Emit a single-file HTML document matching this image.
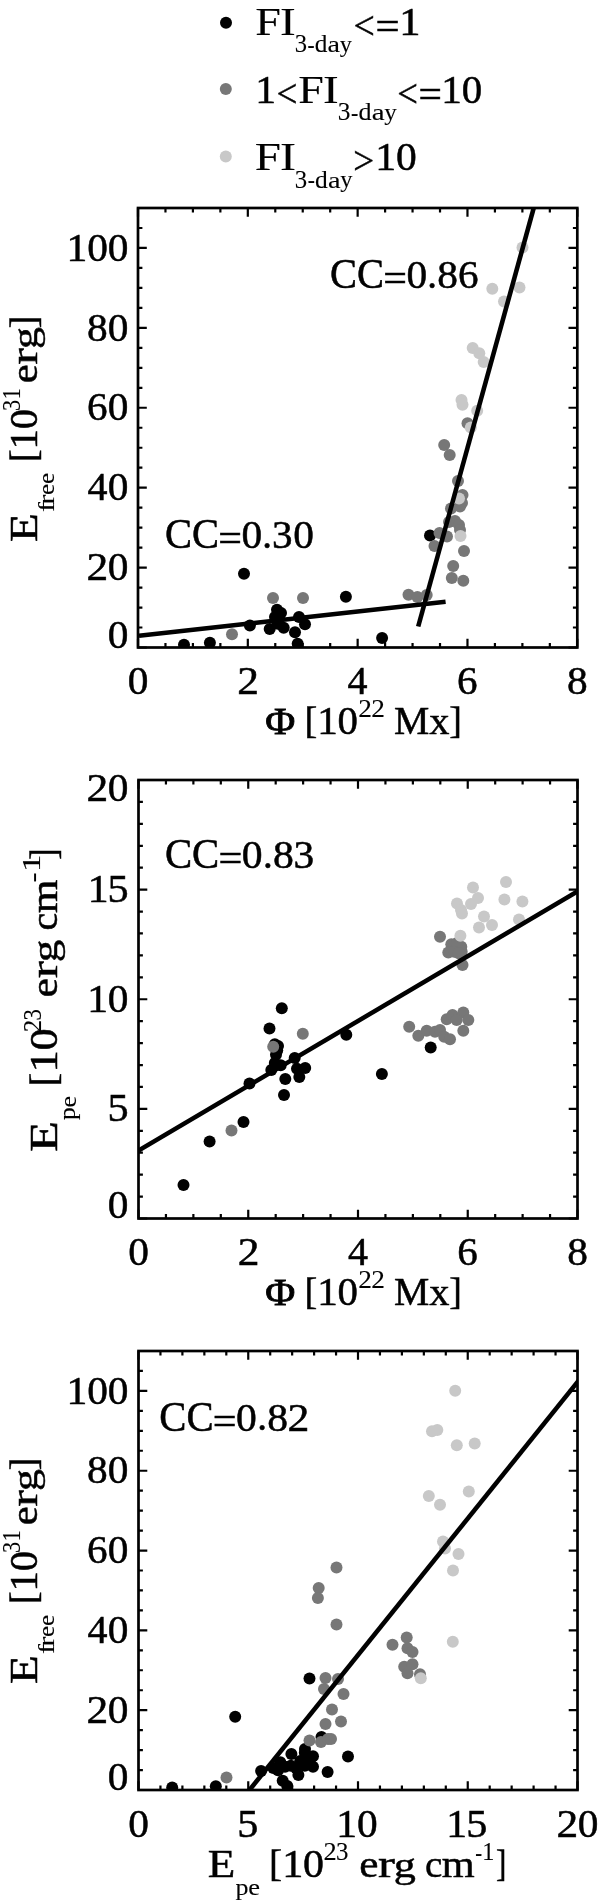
<!DOCTYPE html>
<html><head><meta charset="utf-8"><style>
html,body{margin:0;padding:0;background:#fff;}
svg{display:block;}
.t{opacity:0.999;}
text{font-family:"Liberation Serif",serif;font-size:100px;fill:#000;stroke:#000;stroke-width:1.3px;}
</style></head><body>
<svg width="600" height="1900" viewBox="0 0 600 1900">
<rect width="600" height="1900" fill="#fff"/>
<g class="t"><defs>
<clipPath id="c1"><rect x="138" y="208" width="439.3" height="439.5"/></clipPath>
<clipPath id="c2"><rect x="138.5" y="780" width="439" height="438.5"/></clipPath>
<clipPath id="c3"><rect x="138.5" y="1351" width="439" height="439"/></clipPath>
</defs>
<circle cx="226" cy="22.7" r="6" fill="#000"/>
<circle cx="225.8" cy="89" r="6" fill="#777777"/>
<circle cx="225.8" cy="156.5" r="6" fill="#c8c8c8"/>
<text transform="matrix(0.4613 0 0 0.4103 255.13 34.8)" style="stroke-width:0.3px">F</text>
<text transform="matrix(0.4718 0 0 0.4103 279.96 34.8)" style="stroke-width:0.3px">I</text>
<text transform="matrix(0.2462 0 0 0.243 294.63 52.4)" style="stroke-width:0.5px">3</text>
<text transform="matrix(0.2125 0 0 0.2497 307.41 52.81)" style="stroke-width:0.5px">-</text>
<text transform="matrix(0.2528 0 0 0.2423 314.76 52.4)" style="stroke-width:0.5px">d</text>
<text transform="matrix(0.2811 0 0 0.2341 327.53 52.41)" style="stroke-width:0.5px">a</text>
<text transform="matrix(0.2428 0 0 0.2262 339.67 52.15)" style="stroke-width:0.5px">y</text>
<text transform="matrix(0.3774 0 0 0.4009 353.61 38.98)">&lt;</text>
<text transform="matrix(0.4284 0 0 0.3869 375.5 38.56)">=</text>
<text transform="matrix(0.4252 0 0 0.3974 399.19 35)">1</text>
<text transform="matrix(0.4164 0 0 0.3974 255.36 103)">1</text>
<text transform="matrix(0.3696 0 0 0.4009 276.42 106.98)">&lt;</text>
<text transform="matrix(0.4603 0 0 0.4103 298.22 103)" style="stroke-width:0.3px">F</text>
<text transform="matrix(0.4707 0 0 0.4103 323 103)" style="stroke-width:0.3px">I</text>
<text transform="matrix(0.2539 0 0 0.243 337.79 120.4)" style="stroke-width:0.5px">3</text>
<text transform="matrix(0.2191 0 0 0.2497 350.98 120.81)" style="stroke-width:0.5px">-</text>
<text transform="matrix(0.2607 0 0 0.2423 358.55 120.4)" style="stroke-width:0.5px">d</text>
<text transform="matrix(0.2899 0 0 0.2341 371.72 120.41)" style="stroke-width:0.5px">a</text>
<text transform="matrix(0.2504 0 0 0.2262 384.24 120.15)" style="stroke-width:0.5px">y</text>
<text transform="matrix(0.3659 0 0 0.4009 397.17 106.98)">&lt;</text>
<text transform="matrix(0.4154 0 0 0.3869 418.39 106.56)">=</text>
<text transform="matrix(0.4123 0 0 0.3974 441.37 103)">1</text>
<text transform="matrix(0.409 0 0 0.3968 461.78 103.16)">0</text>
<text transform="matrix(0.4711 0 0 0.4103 254.7 170)" style="stroke-width:0.3px">F</text>
<text transform="matrix(0.4818 0 0 0.4103 280.07 170)" style="stroke-width:0.3px">I</text>
<text transform="matrix(0.2482 0 0 0.243 294.82 187.5)" style="stroke-width:0.5px">3</text>
<text transform="matrix(0.2142 0 0 0.2497 307.71 187.91)" style="stroke-width:0.5px">-</text>
<text transform="matrix(0.2548 0 0 0.2423 315.11 187.5)" style="stroke-width:0.5px">d</text>
<text transform="matrix(0.2834 0 0 0.2341 327.98 187.51)" style="stroke-width:0.5px">a</text>
<text transform="matrix(0.2447 0 0 0.2262 340.22 187.25)" style="stroke-width:0.5px">y</text>
<text transform="matrix(0.3695 0 0 0.4009 353.15 173.98)">&gt;</text>
<text transform="matrix(0.4185 0 0 0.3974 375.37 170)">1</text>
<text transform="matrix(0.4152 0 0 0.3968 396.1 170.16)">0</text>
<g clip-path="url(#c1)">
<circle cx="244" cy="573.7" r="6" fill="#000"/>
<circle cx="184" cy="644.7" r="6" fill="#000"/>
<circle cx="209.9" cy="642.8" r="6" fill="#000"/>
<circle cx="249.9" cy="625.5" r="6" fill="#000"/>
<circle cx="277" cy="609.7" r="6" fill="#000"/>
<circle cx="281" cy="613" r="6" fill="#000"/>
<circle cx="275" cy="617" r="6" fill="#000"/>
<circle cx="269.7" cy="629" r="6" fill="#000"/>
<circle cx="283.7" cy="627.7" r="6" fill="#000"/>
<circle cx="277.7" cy="623.7" r="6" fill="#000"/>
<circle cx="299" cy="617" r="6" fill="#000"/>
<circle cx="305" cy="624.3" r="6" fill="#000"/>
<circle cx="295" cy="632.3" r="6" fill="#000"/>
<circle cx="297.7" cy="643.7" r="6" fill="#000"/>
<circle cx="345.9" cy="596.8" r="6" fill="#000"/>
<circle cx="382.1" cy="637.9" r="6" fill="#000"/>
<circle cx="430" cy="535.5" r="6" fill="#000"/>
<circle cx="232" cy="634.3" r="6" fill="#777777"/>
<circle cx="273" cy="597.9" r="6" fill="#777777"/>
<circle cx="303" cy="597.9" r="6" fill="#777777"/>
<circle cx="408.5" cy="594.7" r="6" fill="#777777"/>
<circle cx="417.4" cy="597" r="6" fill="#777777"/>
<circle cx="426.7" cy="595.1" r="6" fill="#777777"/>
<circle cx="453.2" cy="565.9" r="6" fill="#777777"/>
<circle cx="451.8" cy="578" r="6" fill="#777777"/>
<circle cx="463.3" cy="580.8" r="6" fill="#777777"/>
<circle cx="464" cy="551" r="6" fill="#777777"/>
<circle cx="467.5" cy="423.3" r="6" fill="#777777"/>
<circle cx="444.2" cy="445" r="6" fill="#777777"/>
<circle cx="449.7" cy="455" r="6" fill="#777777"/>
<circle cx="458" cy="481" r="6" fill="#777777"/>
<circle cx="462.5" cy="495" r="6" fill="#777777"/>
<circle cx="462" cy="503" r="6" fill="#777777"/>
<circle cx="460" cy="506.5" r="6" fill="#777777"/>
<circle cx="451" cy="508.5" r="6" fill="#777777"/>
<circle cx="449" cy="522" r="6" fill="#777777"/>
<circle cx="455" cy="521" r="6" fill="#777777"/>
<circle cx="459" cy="525" r="6" fill="#777777"/>
<circle cx="460" cy="530" r="6" fill="#777777"/>
<circle cx="439.5" cy="533" r="6" fill="#777777"/>
<circle cx="447" cy="536.5" r="6" fill="#777777"/>
<circle cx="434.5" cy="546" r="6" fill="#777777"/>
<circle cx="522.5" cy="247.5" r="6" fill="#c8c8c8"/>
<circle cx="492.3" cy="288.7" r="6" fill="#c8c8c8"/>
<circle cx="519.5" cy="287.5" r="6" fill="#c8c8c8"/>
<circle cx="504" cy="301.5" r="6" fill="#c8c8c8"/>
<circle cx="472.7" cy="348" r="6" fill="#c8c8c8"/>
<circle cx="479.3" cy="353.3" r="6" fill="#c8c8c8"/>
<circle cx="483.7" cy="362" r="6" fill="#c8c8c8"/>
<circle cx="461.5" cy="400" r="6" fill="#c8c8c8"/>
<circle cx="462.5" cy="404.8" r="6" fill="#c8c8c8"/>
<circle cx="477.2" cy="410.7" r="6" fill="#c8c8c8"/>
<circle cx="470.8" cy="427.5" r="6" fill="#c8c8c8"/>
<circle cx="459" cy="498.5" r="6" fill="#c8c8c8"/>
<circle cx="460.5" cy="536" r="6" fill="#c8c8c8"/>
</g>
<line x1="139" y1="635.7" x2="445.6" y2="601.7" stroke="#000" stroke-width="4.6" clip-path="url(#c1)"/>
<line x1="418.2" y1="626.5" x2="534.6" y2="204.8" stroke="#000" stroke-width="4.6" clip-path="url(#c1)"/>
<path d="M138 647.5L138 638.7M138 208L138 216.8M165.46 647.5L165.46 643.1M165.46 208L165.46 212.4M192.91 647.5L192.91 643.1M192.91 208L192.91 212.4M220.37 647.5L220.37 643.1M220.37 208L220.37 212.4M247.82 647.5L247.82 638.7M247.82 208L247.82 216.8M275.28 647.5L275.28 643.1M275.28 208L275.28 212.4M302.74 647.5L302.74 643.1M302.74 208L302.74 212.4M330.19 647.5L330.19 643.1M330.19 208L330.19 212.4M357.65 647.5L357.65 638.7M357.65 208L357.65 216.8M385.11 647.5L385.11 643.1M385.11 208L385.11 212.4M412.56 647.5L412.56 643.1M412.56 208L412.56 212.4M440.02 647.5L440.02 643.1M440.02 208L440.02 212.4M467.47 647.5L467.47 638.7M467.47 208L467.47 216.8M494.93 647.5L494.93 643.1M494.93 208L494.93 212.4M522.39 647.5L522.39 643.1M522.39 208L522.39 212.4M549.84 647.5L549.84 643.1M549.84 208L549.84 212.4M577.3 647.5L577.3 638.7M577.3 208L577.3 216.8M138 647.5L146.8 647.5M577.3 647.5L568.5 647.5M138 627.52L142.4 627.52M577.3 627.52L572.9 627.52M138 607.55L142.4 607.55M577.3 607.55L572.9 607.55M138 587.57L142.4 587.57M577.3 587.57L572.9 587.57M138 567.59L146.8 567.59M577.3 567.59L568.5 567.59M138 547.61L142.4 547.61M577.3 547.61L572.9 547.61M138 527.64L142.4 527.64M577.3 527.64L572.9 527.64M138 507.66L142.4 507.66M577.3 507.66L572.9 507.66M138 487.68L146.8 487.68M577.3 487.68L568.5 487.68M138 467.7L142.4 467.7M577.3 467.7L572.9 467.7M138 447.73L142.4 447.73M577.3 447.73L572.9 447.73M138 427.75L142.4 427.75M577.3 427.75L572.9 427.75M138 407.77L146.8 407.77M577.3 407.77L568.5 407.77M138 387.8L142.4 387.8M577.3 387.8L572.9 387.8M138 367.82L142.4 367.82M577.3 367.82L572.9 367.82M138 347.84L142.4 347.84M577.3 347.84L572.9 347.84M138 327.86L146.8 327.86M577.3 327.86L568.5 327.86M138 307.89L142.4 307.89M577.3 307.89L572.9 307.89M138 287.91L142.4 287.91M577.3 287.91L572.9 287.91M138 267.93L142.4 267.93M577.3 267.93L572.9 267.93M138 247.95L146.8 247.95M577.3 247.95L568.5 247.95M138 227.98L142.4 227.98M577.3 227.98L572.9 227.98M138 208L142.4 208M577.3 208L572.9 208" stroke="#000" stroke-width="2.2" fill="none"/>
<rect x="138" y="208" width="439.3" height="439.5" fill="none" stroke="#000" stroke-width="2.7" stroke-linejoin="miter"/>
<g clip-path="url(#c2)">
<circle cx="183.5" cy="1185" r="6" fill="#000"/>
<circle cx="209.6" cy="1141.5" r="6" fill="#000"/>
<circle cx="243.5" cy="1122" r="6" fill="#000"/>
<circle cx="249.5" cy="1083.6" r="6" fill="#000"/>
<circle cx="284" cy="1095" r="6" fill="#000"/>
<circle cx="281.8" cy="1008.2" r="6" fill="#000"/>
<circle cx="269.5" cy="1028.5" r="6" fill="#000"/>
<circle cx="346.3" cy="1034.7" r="6" fill="#000"/>
<circle cx="274.8" cy="1044.3" r="6" fill="#000"/>
<circle cx="278" cy="1046" r="6" fill="#000"/>
<circle cx="277.2" cy="1050.2" r="6" fill="#000"/>
<circle cx="276" cy="1054.8" r="6" fill="#000"/>
<circle cx="294.7" cy="1057.9" r="6" fill="#000"/>
<circle cx="274.8" cy="1063" r="6" fill="#000"/>
<circle cx="280.7" cy="1065.3" r="6" fill="#000"/>
<circle cx="271.3" cy="1070" r="6" fill="#000"/>
<circle cx="297" cy="1068.8" r="6" fill="#000"/>
<circle cx="305.2" cy="1068.1" r="6" fill="#000"/>
<circle cx="299.3" cy="1077" r="6" fill="#000"/>
<circle cx="285.3" cy="1078.9" r="6" fill="#000"/>
<circle cx="381.9" cy="1074.1" r="6" fill="#000"/>
<circle cx="430.7" cy="1047.5" r="6" fill="#000"/>
<circle cx="231.5" cy="1130.4" r="6" fill="#777777"/>
<circle cx="302.8" cy="1033.8" r="6" fill="#777777"/>
<circle cx="273.2" cy="1046.7" r="6" fill="#777777"/>
<circle cx="440" cy="936.7" r="6" fill="#777777"/>
<circle cx="451.3" cy="944.2" r="6" fill="#777777"/>
<circle cx="456.7" cy="943.3" r="6" fill="#777777"/>
<circle cx="461.3" cy="946.7" r="6" fill="#777777"/>
<circle cx="448.3" cy="952.5" r="6" fill="#777777"/>
<circle cx="454.2" cy="951.7" r="6" fill="#777777"/>
<circle cx="461.7" cy="951.7" r="6" fill="#777777"/>
<circle cx="458.75" cy="953.3" r="6" fill="#777777"/>
<circle cx="462.5" cy="965" r="6" fill="#777777"/>
<circle cx="409.2" cy="1026.7" r="6" fill="#777777"/>
<circle cx="418.3" cy="1035.8" r="6" fill="#777777"/>
<circle cx="426.7" cy="1030.8" r="6" fill="#777777"/>
<circle cx="435" cy="1031.7" r="6" fill="#777777"/>
<circle cx="440" cy="1030" r="6" fill="#777777"/>
<circle cx="444.2" cy="1036.7" r="6" fill="#777777"/>
<circle cx="450" cy="1039.2" r="6" fill="#777777"/>
<circle cx="446.7" cy="1019.2" r="6" fill="#777777"/>
<circle cx="452.5" cy="1015" r="6" fill="#777777"/>
<circle cx="463.3" cy="1012.5" r="6" fill="#777777"/>
<circle cx="468.3" cy="1020" r="6" fill="#777777"/>
<circle cx="463.3" cy="1030.8" r="6" fill="#777777"/>
<circle cx="456.7" cy="1020" r="6" fill="#777777"/>
<circle cx="506" cy="882" r="6" fill="#c8c8c8"/>
<circle cx="473" cy="887.6" r="6" fill="#c8c8c8"/>
<circle cx="478" cy="898" r="6" fill="#c8c8c8"/>
<circle cx="471" cy="904" r="6" fill="#c8c8c8"/>
<circle cx="457" cy="903.6" r="6" fill="#c8c8c8"/>
<circle cx="461" cy="910" r="6" fill="#c8c8c8"/>
<circle cx="462" cy="913.6" r="6" fill="#c8c8c8"/>
<circle cx="504.4" cy="899.6" r="6" fill="#c8c8c8"/>
<circle cx="522.4" cy="901.6" r="6" fill="#c8c8c8"/>
<circle cx="484" cy="916.4" r="6" fill="#c8c8c8"/>
<circle cx="492" cy="925" r="6" fill="#c8c8c8"/>
<circle cx="479" cy="927.6" r="6" fill="#c8c8c8"/>
<circle cx="519" cy="919.6" r="6" fill="#c8c8c8"/>
<circle cx="460.4" cy="935.8" r="6" fill="#c8c8c8"/>
</g>
<line x1="138.5" y1="1150.6" x2="577" y2="891.7" stroke="#000" stroke-width="4.6" clip-path="url(#c2)"/>
<path d="M138.5 1218.5L138.5 1209.7M138.5 780L138.5 788.8M165.94 1218.5L165.94 1214.1M165.94 780L165.94 784.4M193.38 1218.5L193.38 1214.1M193.38 780L193.38 784.4M220.81 1218.5L220.81 1214.1M220.81 780L220.81 784.4M248.25 1218.5L248.25 1209.7M248.25 780L248.25 788.8M275.69 1218.5L275.69 1214.1M275.69 780L275.69 784.4M303.12 1218.5L303.12 1214.1M303.12 780L303.12 784.4M330.56 1218.5L330.56 1214.1M330.56 780L330.56 784.4M358 1218.5L358 1209.7M358 780L358 788.8M385.44 1218.5L385.44 1214.1M385.44 780L385.44 784.4M412.88 1218.5L412.88 1214.1M412.88 780L412.88 784.4M440.31 1218.5L440.31 1214.1M440.31 780L440.31 784.4M467.75 1218.5L467.75 1209.7M467.75 780L467.75 788.8M495.19 1218.5L495.19 1214.1M495.19 780L495.19 784.4M522.62 1218.5L522.62 1214.1M522.62 780L522.62 784.4M550.06 1218.5L550.06 1214.1M550.06 780L550.06 784.4M577.5 1218.5L577.5 1209.7M577.5 780L577.5 788.8M138.5 1218.5L147.3 1218.5M577.5 1218.5L568.7 1218.5M138.5 1196.58L142.9 1196.58M577.5 1196.58L573.1 1196.58M138.5 1174.65L142.9 1174.65M577.5 1174.65L573.1 1174.65M138.5 1152.72L142.9 1152.72M577.5 1152.72L573.1 1152.72M138.5 1130.8L142.9 1130.8M577.5 1130.8L573.1 1130.8M138.5 1108.88L147.3 1108.88M577.5 1108.88L568.7 1108.88M138.5 1086.95L142.9 1086.95M577.5 1086.95L573.1 1086.95M138.5 1065.03L142.9 1065.03M577.5 1065.03L573.1 1065.03M138.5 1043.1L142.9 1043.1M577.5 1043.1L573.1 1043.1M138.5 1021.17L142.9 1021.17M577.5 1021.17L573.1 1021.17M138.5 999.25L147.3 999.25M577.5 999.25L568.7 999.25M138.5 977.33L142.9 977.33M577.5 977.33L573.1 977.33M138.5 955.4L142.9 955.4M577.5 955.4L573.1 955.4M138.5 933.47L142.9 933.47M577.5 933.47L573.1 933.47M138.5 911.55L142.9 911.55M577.5 911.55L573.1 911.55M138.5 889.62L147.3 889.62M577.5 889.62L568.7 889.62M138.5 867.7L142.9 867.7M577.5 867.7L573.1 867.7M138.5 845.78L142.9 845.78M577.5 845.78L573.1 845.78M138.5 823.85L142.9 823.85M577.5 823.85L573.1 823.85M138.5 801.92L142.9 801.92M577.5 801.92L573.1 801.92M138.5 780L147.3 780M577.5 780L568.7 780" stroke="#000" stroke-width="2.2" fill="none"/>
<rect x="138.5" y="780" width="439" height="438.5" fill="none" stroke="#000" stroke-width="2.7" stroke-linejoin="miter"/>
<g clip-path="url(#c3)">
<circle cx="172.2" cy="1787.5" r="6" fill="#000"/>
<circle cx="215.8" cy="1786.3" r="6" fill="#000"/>
<circle cx="235.2" cy="1716.8" r="6" fill="#000"/>
<circle cx="261.1" cy="1770.9" r="6" fill="#000"/>
<circle cx="309.5" cy="1678.5" r="6" fill="#000"/>
<circle cx="321.5" cy="1737" r="6" fill="#000"/>
<circle cx="305" cy="1749" r="6" fill="#000"/>
<circle cx="348" cy="1756.4" r="6" fill="#000"/>
<circle cx="327.6" cy="1772" r="6" fill="#000"/>
<circle cx="291.4" cy="1754" r="6" fill="#000"/>
<circle cx="304.8" cy="1752.8" r="6" fill="#000"/>
<circle cx="313" cy="1756.3" r="6" fill="#000"/>
<circle cx="313" cy="1766.8" r="6" fill="#000"/>
<circle cx="304.8" cy="1765.7" r="6" fill="#000"/>
<circle cx="300.2" cy="1761" r="6" fill="#000"/>
<circle cx="290.8" cy="1765.7" r="6" fill="#000"/>
<circle cx="280.3" cy="1762.2" r="6" fill="#000"/>
<circle cx="273.3" cy="1768" r="6" fill="#000"/>
<circle cx="278" cy="1770.3" r="6" fill="#000"/>
<circle cx="285" cy="1766.8" r="6" fill="#000"/>
<circle cx="298.4" cy="1775" r="6" fill="#000"/>
<circle cx="282.7" cy="1780.8" r="6" fill="#000"/>
<circle cx="287.3" cy="1786.1" r="6" fill="#000"/>
<circle cx="309.5" cy="1761" r="6" fill="#000"/>
<circle cx="296" cy="1768" r="6" fill="#000"/>
<circle cx="226.5" cy="1777.5" r="6" fill="#777777"/>
<circle cx="325.5" cy="1678" r="6" fill="#777777"/>
<circle cx="338" cy="1679" r="6" fill="#777777"/>
<circle cx="324" cy="1689" r="6" fill="#777777"/>
<circle cx="343.5" cy="1694" r="6" fill="#777777"/>
<circle cx="332" cy="1709.5" r="6" fill="#777777"/>
<circle cx="325.5" cy="1724" r="6" fill="#777777"/>
<circle cx="341" cy="1721.5" r="6" fill="#777777"/>
<circle cx="309.5" cy="1740.5" r="6" fill="#777777"/>
<circle cx="321" cy="1742" r="6" fill="#777777"/>
<circle cx="328" cy="1739" r="6" fill="#777777"/>
<circle cx="331" cy="1739" r="6" fill="#777777"/>
<circle cx="336.5" cy="1567.5" r="6" fill="#777777"/>
<circle cx="318.7" cy="1588" r="6" fill="#777777"/>
<circle cx="317.9" cy="1597.9" r="6" fill="#777777"/>
<circle cx="336.5" cy="1624.5" r="6" fill="#777777"/>
<circle cx="392.5" cy="1644.7" r="6" fill="#777777"/>
<circle cx="406.7" cy="1637.5" r="6" fill="#777777"/>
<circle cx="407.5" cy="1648.3" r="6" fill="#777777"/>
<circle cx="412.5" cy="1652" r="6" fill="#777777"/>
<circle cx="404.2" cy="1666.7" r="6" fill="#777777"/>
<circle cx="412.5" cy="1664.2" r="6" fill="#777777"/>
<circle cx="407.5" cy="1673.3" r="6" fill="#777777"/>
<circle cx="420" cy="1674.2" r="6" fill="#777777"/>
<circle cx="420.8" cy="1678.3" r="6" fill="#c8c8c8"/>
<circle cx="452.8" cy="1641.7" r="6" fill="#c8c8c8"/>
<circle cx="455.2" cy="1390.7" r="6" fill="#c8c8c8"/>
<circle cx="432" cy="1431.2" r="6" fill="#c8c8c8"/>
<circle cx="437.3" cy="1430.1" r="6" fill="#c8c8c8"/>
<circle cx="456.8" cy="1445.3" r="6" fill="#c8c8c8"/>
<circle cx="474.7" cy="1443.5" r="6" fill="#c8c8c8"/>
<circle cx="428.8" cy="1496" r="6" fill="#c8c8c8"/>
<circle cx="440" cy="1504.8" r="6" fill="#c8c8c8"/>
<circle cx="468.8" cy="1491.5" r="6" fill="#c8c8c8"/>
<circle cx="443" cy="1541.5" r="6" fill="#c8c8c8"/>
<circle cx="445" cy="1548.5" r="6" fill="#c8c8c8"/>
<circle cx="458.5" cy="1554" r="6" fill="#c8c8c8"/>
<circle cx="453" cy="1570.5" r="6" fill="#c8c8c8"/>
</g>
<line x1="245.48" y1="1795" x2="580" y2="1378.85" stroke="#000" stroke-width="4.6" clip-path="url(#c3)"/>
<path d="M138.5 1790L138.5 1781.2M138.5 1351L138.5 1359.8M160.45 1790L160.45 1785.6M160.45 1351L160.45 1355.4M182.4 1790L182.4 1785.6M182.4 1351L182.4 1355.4M204.35 1790L204.35 1785.6M204.35 1351L204.35 1355.4M226.3 1790L226.3 1785.6M226.3 1351L226.3 1355.4M248.25 1790L248.25 1781.2M248.25 1351L248.25 1359.8M270.2 1790L270.2 1785.6M270.2 1351L270.2 1355.4M292.15 1790L292.15 1785.6M292.15 1351L292.15 1355.4M314.1 1790L314.1 1785.6M314.1 1351L314.1 1355.4M336.05 1790L336.05 1785.6M336.05 1351L336.05 1355.4M358 1790L358 1781.2M358 1351L358 1359.8M379.95 1790L379.95 1785.6M379.95 1351L379.95 1355.4M401.9 1790L401.9 1785.6M401.9 1351L401.9 1355.4M423.85 1790L423.85 1785.6M423.85 1351L423.85 1355.4M445.8 1790L445.8 1785.6M445.8 1351L445.8 1355.4M467.75 1790L467.75 1781.2M467.75 1351L467.75 1359.8M489.7 1790L489.7 1785.6M489.7 1351L489.7 1355.4M511.65 1790L511.65 1785.6M511.65 1351L511.65 1355.4M533.6 1790L533.6 1785.6M533.6 1351L533.6 1355.4M555.55 1790L555.55 1785.6M555.55 1351L555.55 1355.4M577.5 1790L577.5 1781.2M577.5 1351L577.5 1359.8M138.5 1790L147.3 1790M577.5 1790L568.7 1790M138.5 1770.05L142.9 1770.05M577.5 1770.05L573.1 1770.05M138.5 1750.09L142.9 1750.09M577.5 1750.09L573.1 1750.09M138.5 1730.14L142.9 1730.14M577.5 1730.14L573.1 1730.14M138.5 1710.18L147.3 1710.18M577.5 1710.18L568.7 1710.18M138.5 1690.23L142.9 1690.23M577.5 1690.23L573.1 1690.23M138.5 1670.27L142.9 1670.27M577.5 1670.27L573.1 1670.27M138.5 1650.32L142.9 1650.32M577.5 1650.32L573.1 1650.32M138.5 1630.36L147.3 1630.36M577.5 1630.36L568.7 1630.36M138.5 1610.41L142.9 1610.41M577.5 1610.41L573.1 1610.41M138.5 1590.45L142.9 1590.45M577.5 1590.45L573.1 1590.45M138.5 1570.5L142.9 1570.5M577.5 1570.5L573.1 1570.5M138.5 1550.55L147.3 1550.55M577.5 1550.55L568.7 1550.55M138.5 1530.59L142.9 1530.59M577.5 1530.59L573.1 1530.59M138.5 1510.64L142.9 1510.64M577.5 1510.64L573.1 1510.64M138.5 1490.68L142.9 1490.68M577.5 1490.68L573.1 1490.68M138.5 1470.73L147.3 1470.73M577.5 1470.73L568.7 1470.73M138.5 1450.77L142.9 1450.77M577.5 1450.77L573.1 1450.77M138.5 1430.82L142.9 1430.82M577.5 1430.82L573.1 1430.82M138.5 1410.86L142.9 1410.86M577.5 1410.86L573.1 1410.86M138.5 1390.91L147.3 1390.91M577.5 1390.91L568.7 1390.91M138.5 1370.95L142.9 1370.95M577.5 1370.95L573.1 1370.95M138.5 1351L142.9 1351M577.5 1351L573.1 1351" stroke="#000" stroke-width="2.2" fill="none"/>
<rect x="138.5" y="1351" width="439" height="439" fill="none" stroke="#000" stroke-width="2.7" stroke-linejoin="miter"/>
<text transform="matrix(0.4136 0 0 0.3968 127.66 694.06)">0</text>
<text transform="matrix(0.4344 0 0 0.3959 237.24 693.9)">2</text>
<text transform="matrix(0.4 0 0 0.3989 347.55 693.9)">4</text>
<text transform="matrix(0.4112 0 0 0.3983 456.94 694.06)">6</text>
<text transform="matrix(0.4136 0 0 0.3968 566.96 694.06)">8</text>
<text transform="matrix(0.4136 0 0 0.3968 128.16 1264.76)">0</text>
<text transform="matrix(0.4344 0 0 0.3959 237.66 1264.6)">2</text>
<text transform="matrix(0.4 0 0 0.3989 347.9 1264.6)">4</text>
<text transform="matrix(0.4112 0 0 0.3983 457.21 1264.76)">6</text>
<text transform="matrix(0.4136 0 0 0.3968 567.16 1264.76)">8</text>
<text transform="matrix(0.4136 0 0 0.3968 128.16 1836.86)">0</text>
<text transform="matrix(0.4228 0 0 0.4028 237.31 1836.86)">5</text>
<text transform="matrix(0.4169 0 0 0.3974 336.29 1836.7)">1</text>
<text transform="matrix(0.4136 0 0 0.3968 356.93 1836.86)">0</text>
<text transform="matrix(0.4169 0 0 0.3974 446.27 1836.7)">1</text>
<text transform="matrix(0.4228 0 0 0.4028 466.13 1836.86)">5</text>
<text transform="matrix(0.4344 0 0 0.3959 556.38 1836.7)">2</text>
<text transform="matrix(0.4136 0 0 0.3968 577.64 1836.86)">0</text>
<text transform="matrix(0.4169 0 0 0.3974 66.55 260.5)">1</text>
<text transform="matrix(0.4136 0 0 0.3968 87.19 260.66)">0</text>
<text transform="matrix(0.4136 0 0 0.3968 107.87 260.66)">0</text>
<text transform="matrix(0.4136 0 0 0.3968 87.1 340.56)">8</text>
<text transform="matrix(0.4136 0 0 0.3968 107.87 340.56)">0</text>
<text transform="matrix(0.4112 0 0 0.3983 86.99 420.46)">6</text>
<text transform="matrix(0.4136 0 0 0.3968 107.87 420.46)">0</text>
<text transform="matrix(0.4 0 0 0.3989 87.38 500.2)">4</text>
<text transform="matrix(0.4136 0 0 0.3968 107.87 500.36)">0</text>
<text transform="matrix(0.4344 0 0 0.3959 86.61 580.1)">2</text>
<text transform="matrix(0.4136 0 0 0.3968 107.87 580.26)">0</text>
<text transform="matrix(0.4136 0 0 0.3968 107.87 648.16)">0</text>
<text transform="matrix(0.4169 0 0 0.3974 87.7 902.02)">1</text>
<text transform="matrix(0.4228 0 0 0.4028 107.55 902.18)">5</text>
<text transform="matrix(0.4169 0 0 0.3974 87.23 1011.65)">1</text>
<text transform="matrix(0.4136 0 0 0.3968 107.87 1011.81)">0</text>
<text transform="matrix(0.4228 0 0 0.4028 107.55 1121.43)">5</text>
<text transform="matrix(0.4344 0 0 0.3959 86.61 800.6)">2</text>
<text transform="matrix(0.4136 0 0 0.3968 107.87 800.76)">0</text>
<text transform="matrix(0.4136 0 0 0.3968 107.87 1218.36)">0</text>
<text transform="matrix(0.4169 0 0 0.3974 66.55 1403.5)">1</text>
<text transform="matrix(0.4136 0 0 0.3968 87.19 1403.66)">0</text>
<text transform="matrix(0.4136 0 0 0.3968 107.87 1403.66)">0</text>
<text transform="matrix(0.4136 0 0 0.3968 87.1 1483.46)">8</text>
<text transform="matrix(0.4136 0 0 0.3968 107.87 1483.46)">0</text>
<text transform="matrix(0.4112 0 0 0.3983 86.99 1563.26)">6</text>
<text transform="matrix(0.4136 0 0 0.3968 107.87 1563.26)">0</text>
<text transform="matrix(0.4 0 0 0.3989 87.38 1642.9)">4</text>
<text transform="matrix(0.4136 0 0 0.3968 107.87 1643.06)">0</text>
<text transform="matrix(0.4344 0 0 0.3959 86.61 1722.7)">2</text>
<text transform="matrix(0.4136 0 0 0.3968 107.87 1722.86)">0</text>
<text transform="matrix(0.4136 0 0 0.3968 107.87 1789.96)">0</text>
<text transform="matrix(0.4049 0 0 0.4163 165.08 547.94)">C</text>
<text transform="matrix(0.4049 0 0 0.4163 191.97 547.94)">C</text>
<text transform="matrix(0.4204 0 0 0.3869 218.18 551.36)">=</text>
<text transform="matrix(0.414 0 0 0.3968 241.39 547.96)">0</text>
<text transform="matrix(0.3879 0 0 0.3957 262.34 547.76)">.</text>
<text transform="matrix(0.4107 0 0 0.3983 272.05 547.96)">3</text>
<text transform="matrix(0.414 0 0 0.3968 293.15 547.96)">0</text>
<text transform="matrix(0.4049 0 0 0.4163 330.08 287.94)">C</text>
<text transform="matrix(0.4049 0 0 0.4163 356.97 287.94)">C</text>
<text transform="matrix(0.4204 0 0 0.3869 383.18 291.36)">=</text>
<text transform="matrix(0.414 0 0 0.3968 406.39 287.96)">0</text>
<text transform="matrix(0.3879 0 0 0.3957 427.34 287.76)">.</text>
<text transform="matrix(0.414 0 0 0.3968 437.36 287.96)">8</text>
<text transform="matrix(0.4116 0 0 0.3983 457.96 287.96)">6</text>
<text transform="matrix(0.4078 0 0 0.4163 164.97 867.94)">C</text>
<text transform="matrix(0.4078 0 0 0.4163 192.05 867.94)">C</text>
<text transform="matrix(0.4235 0 0 0.3869 218.46 871.36)">=</text>
<text transform="matrix(0.417 0 0 0.3968 241.83 867.96)">0</text>
<text transform="matrix(0.3907 0 0 0.3957 262.93 867.76)">.</text>
<text transform="matrix(0.417 0 0 0.3968 273.02 867.96)">8</text>
<text transform="matrix(0.4137 0 0 0.3983 293.57 867.96)">3</text>
<text transform="matrix(0.4071 0 0 0.4163 159.37 1430.64)">C</text>
<text transform="matrix(0.4071 0 0 0.4163 186.4 1430.64)">C</text>
<text transform="matrix(0.4227 0 0 0.3869 212.76 1434.06)">=</text>
<text transform="matrix(0.4162 0 0 0.3968 236.09 1430.66)">0</text>
<text transform="matrix(0.39 0 0 0.3957 257.15 1430.46)">.</text>
<text transform="matrix(0.4162 0 0 0.3968 267.22 1430.66)">8</text>
<text transform="matrix(0.4371 0 0 0.3959 287.55 1430.5)">2</text>
<text transform="matrix(0.4104 0 0 0.3728 265.17 734.4)" style="stroke-width:2.2px">Φ</text>
<text transform="matrix(0.3839 0 0 0.372 304.42 733.28)">[</text>
<text transform="matrix(0.4117 0 0 0.3974 317.22 734.3)">1</text>
<text transform="matrix(0.4085 0 0 0.3968 337.61 734.46)">0</text>
<text transform="matrix(0.2731 0 0 0.2416 358.34 717)" style="stroke-width:0.5px">2</text>
<text transform="matrix(0.2731 0 0 0.2416 371.35 717)" style="stroke-width:0.5px">2</text>
<text transform="matrix(0.397 0 0 0.4103 393.91 734.3)">M</text>
<text transform="matrix(0.4042 0 0 0.376 429.19 734.3)">x</text>
<text transform="matrix(0.3796 0 0 0.372 449.13 733.28)">]</text>
<text transform="matrix(0.4104 0 0 0.3728 265.17 1304.9)" style="stroke-width:2.2px">Φ</text>
<text transform="matrix(0.3839 0 0 0.372 304.42 1303.78)">[</text>
<text transform="matrix(0.4117 0 0 0.3974 317.22 1304.8)">1</text>
<text transform="matrix(0.4085 0 0 0.3968 337.61 1304.96)">0</text>
<text transform="matrix(0.2731 0 0 0.2416 358.34 1287.5)" style="stroke-width:0.5px">2</text>
<text transform="matrix(0.2731 0 0 0.2416 371.35 1287.5)" style="stroke-width:0.5px">2</text>
<text transform="matrix(0.397 0 0 0.4103 393.91 1304.8)">M</text>
<text transform="matrix(0.4042 0 0 0.376 429.19 1304.8)">x</text>
<text transform="matrix(0.3796 0 0 0.372 449.13 1303.78)">]</text>
<text transform="matrix(0.4507 0 0 0.4103 207.76 1876.8)">E</text>
<text transform="matrix(0.2593 0 0 0.227 235.61 1895.07)" style="stroke-width:0.5px">p</text>
<text transform="matrix(0.2643 0 0 0.2341 248.17 1895.41)" style="stroke-width:0.5px">e</text>
<text transform="matrix(0.3941 0 0 0.372 269.04 1875.78)">[</text>
<text transform="matrix(0.4226 0 0 0.3974 282.18 1876.8)">1</text>
<text transform="matrix(0.4193 0 0 0.3968 303.11 1876.96)">0</text>
<text transform="matrix(0.2637 0 0 0.2416 323.38 1860.3)" style="stroke-width:0.5px">2</text>
<text transform="matrix(0.2491 0 0 0.243 336.04 1860.4)" style="stroke-width:0.5px">3</text>
<text transform="matrix(0.4326 0 0 0.3836 359.27 1876.97)">e</text>
<text transform="matrix(0.5065 0 0 0.3799 378.04 1876.8)">r</text>
<text transform="matrix(0.4425 0 0 0.3567 393.8 1876.76)">g</text>
<text transform="matrix(0.3896 0 0 0.3836 424.93 1876.97)">c</text>
<text transform="matrix(0.4237 0 0 0.3799 441.7 1876.8)">m</text>
<text transform="matrix(0.206 0 0 0.2497 475.23 1860.51)" style="stroke-width:0.5px">-</text>
<text transform="matrix(0.2425 0 0 0.2425 482.33 1860)" style="stroke-width:0.5px">1</text>
<text transform="matrix(0.3111 0 0 0.372 495.91 1875.78)">]</text>
<text transform="matrix(0 -0.4695 0.4103 0 36.8 542.09)">E</text>
<text transform="matrix(0 -0.2983 0.2375 0 53.9 512.09)" style="stroke-width:0.5px">f</text>
<text transform="matrix(0 -0.2959 0.2318 0 53.9 504.5)" style="stroke-width:0.5px">r</text>
<text transform="matrix(0 -0.2527 0.2341 0 54.01 494.93)" style="stroke-width:0.5px">e</text>
<text transform="matrix(0 -0.2527 0.2341 0 54.01 484.06)" style="stroke-width:0.5px">e</text>
<text transform="matrix(0 -0.38 0.372 0 35.78 462.05)">[</text>
<text transform="matrix(0 -0.4075 0.3974 0 36.8 449.38)">1</text>
<text transform="matrix(0 -0.4043 0.3968 0 36.96 429.2)">0</text>
<text transform="matrix(0 -0.2231 0.243 0 20.3 410.96)" style="stroke-width:0.5px">3</text>
<text transform="matrix(0 -0.2267 0.2425 0 20.2 399.47)" style="stroke-width:0.5px">1</text>
<text transform="matrix(0 -0.4293 0.3836 0 36.97 383.32)">e</text>
<text transform="matrix(0 -0.5026 0.3799 0 36.8 364.69)">r</text>
<text transform="matrix(0 -0.439 0.3567 0 36.76 349.06)">g</text>
<text transform="matrix(0 -0.3776 0.372 0 35.78 328.22)">]</text>
<text transform="matrix(0 -0.4695 0.4103 0 36.8 1684.09)">E</text>
<text transform="matrix(0 -0.2983 0.2375 0 53.9 1654.09)" style="stroke-width:0.5px">f</text>
<text transform="matrix(0 -0.2959 0.2318 0 53.9 1646.5)" style="stroke-width:0.5px">r</text>
<text transform="matrix(0 -0.2527 0.2341 0 54.01 1636.93)" style="stroke-width:0.5px">e</text>
<text transform="matrix(0 -0.2527 0.2341 0 54.01 1626.06)" style="stroke-width:0.5px">e</text>
<text transform="matrix(0 -0.38 0.372 0 35.78 1604.05)">[</text>
<text transform="matrix(0 -0.4075 0.3974 0 36.8 1591.38)">1</text>
<text transform="matrix(0 -0.4043 0.3968 0 36.96 1571.2)">0</text>
<text transform="matrix(0 -0.2231 0.243 0 20.3 1552.96)" style="stroke-width:0.5px">3</text>
<text transform="matrix(0 -0.2267 0.2425 0 20.2 1541.47)" style="stroke-width:0.5px">1</text>
<text transform="matrix(0 -0.4293 0.3836 0 36.97 1525.32)">e</text>
<text transform="matrix(0 -0.5026 0.3799 0 36.8 1506.69)">r</text>
<text transform="matrix(0 -0.439 0.3567 0 36.76 1491.06)">g</text>
<text transform="matrix(0 -0.3776 0.372 0 35.78 1470.22)">]</text>
<text transform="matrix(0 -0.5052 0.4103 0 57.2 1151.99)">E</text>
<text transform="matrix(0 -0.2571 0.227 0 75.27 1119.89)" style="stroke-width:0.5px">p</text>
<text transform="matrix(0 -0.262 0.2341 0 75.61 1107.44)" style="stroke-width:0.5px">e</text>
<text transform="matrix(0 -0.4159 0.372 0 56.18 1086.42)">[</text>
<text transform="matrix(0 -0.446 0.3974 0 57.2 1072.55)">1</text>
<text transform="matrix(0 -0.4425 0.3968 0 57.36 1050.47)">0</text>
<text transform="matrix(0 -0.2408 0.2416 0 40.6 1032.02)" style="stroke-width:0.5px">2</text>
<text transform="matrix(0 -0.2274 0.243 0 40.7 1020.46)" style="stroke-width:0.5px">3</text>
<text transform="matrix(0 -0.4414 0.3836 0 57.37 997.47)">e</text>
<text transform="matrix(0 -0.5168 0.3799 0 57.2 978.31)">r</text>
<text transform="matrix(0 -0.4515 0.3567 0 57.16 962.24)">g</text>
<text transform="matrix(0 -0.3976 0.3836 0 57.37 930.47)">c</text>
<text transform="matrix(0 -0.4323 0.3799 0 57.2 913.36)">m</text>
<text transform="matrix(0 -0.2957 0.2497 0 40.71 882.31)" style="stroke-width:0.5px">-</text>
<text transform="matrix(0 -0.3481 0.2425 0 40.2 872.12)" style="stroke-width:0.5px">1</text>
<text transform="matrix(0 -0.3378 0.372 0 56.18 859.68)">]</text></g>
</svg>
</body></html>
